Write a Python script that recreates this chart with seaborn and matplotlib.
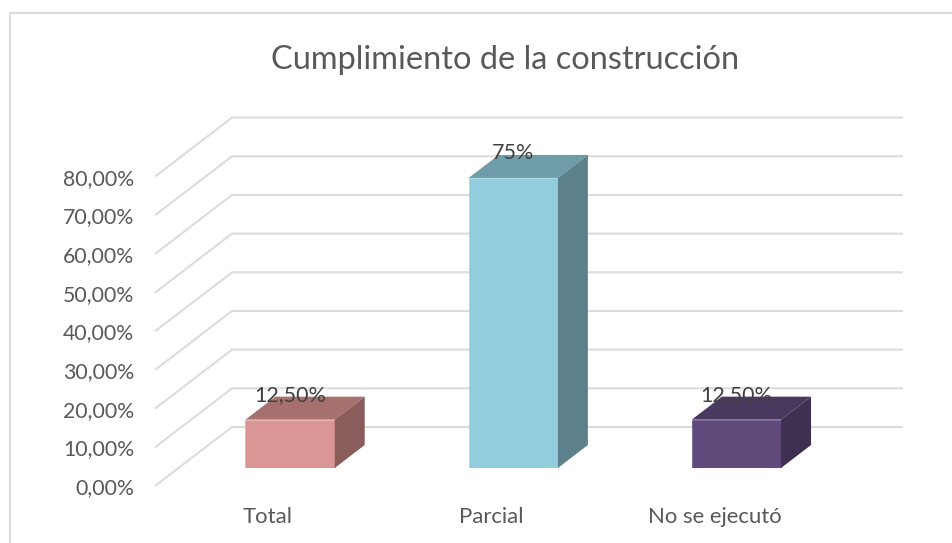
import matplotlib
matplotlib.use('Agg')
import matplotlib.pyplot as plt
import seaborn as sns
from matplotlib.lines import Line2D
from matplotlib.patches import Polygon
from matplotlib.transforms import ScaledTranslation

categories = ['Total', 'Parcial', 'No se ejecutó']
values = [12.5, 75, 12.5]
value_labels = ['12,50%', '75%', '12,50%']
tick_values = [0, 10, 20, 30, 40, 50, 60, 70, 80]
tick_labels = ['0,00%', '10,00%', '20,00%', '30,00%', '40,00%', '50,00%', '60,00%', '70,00%', '80,00%']
front_colors = ['#D99694', '#92CDDD', '#604A7B']
top_colors = ['#A6706E', '#6F9CA9', '#4A395E']
side_colors = ['#8A5D5C', '#5C818C', '#3E3050']
edge_colors = ['#E3B0AF', '#A5D6E3', '#74608E']

W, H = 952, 543
GRID = '#DCDCDC'
TEXT = '#595959'

sns.set_theme(style='white')
plt.rcParams['font.family'] = ['Lato', 'DejaVu Sans']

fig = plt.figure(figsize=(W / 100, H / 100), dpi=100)
# front plane of the bars, in pixels: x 178.5-848, y 468 (0%) to 158.6 (80%)
ax = fig.add_axes([178.5 / W, 1 - 468 / H, 669.5 / W, 309.4 / H])
ax.patch.set_alpha(0)

sns.barplot(x=categories, y=values, hue=categories, palette=front_colors,
            width=0.4, legend=False, saturation=1, ax=ax, zorder=3)
ax.set_xlim(-0.5, 2.5)
ax.set_ylim(0, 80)

px_x = 3 / 669.5      # data units per pixel
px_y = 80 / 309.4
dx, dy = 30 * px_x, 23 * px_y

# back wall and floor lines
for v in tick_values:
    xs = [-0.5 + (155 - 178.5) * px_x, -0.5 + (232 - 178.5) * px_x, -0.5 + (903 - 178.5) * px_x]
    ys = [v - 18 * px_y, v + 41 * px_y, v + 41 * px_y]
    ax.plot(xs, ys, color=GRID, lw=1.5, clip_on=False, zorder=1, solid_capstyle='butt')

# fake depth, top and side of each bar
for i, cont in enumerate(ax.containers):
    bar = cont[0]
    bar.set_edgecolor(edge_colors[i])
    bar.set_linewidth(0.6)
    x0, w, h = bar.get_x(), bar.get_width(), bar.get_height()
    top = Polygon([(x0, h), (x0 + w, h), (x0 + w + dx, h + dy), (x0 + dx, h + dy)],
                  facecolor=top_colors[i], edgecolor='none', clip_on=False, zorder=3)
    side = Polygon([(x0 + w, 0), (x0 + w + dx, dy), (x0 + w + dx, h + dy), (x0 + w, h)],
                   facecolor=side_colors[i], edgecolor='none', clip_on=False, zorder=3)
    ax.add_patch(top)
    ax.add_patch(side)
    ax.annotate(value_labels[i], (x0 + w / 2, h), xytext=(0, 25 * 0.72), textcoords='offset points',
                ha='center', va='center', fontsize=15.5, color='#404040', zorder=5, annotation_clip=False)

ax.set_yticks(tick_values, tick_labels)
ax.tick_params(axis='y', length=0, labelsize=15.3, labelcolor=TEXT, pad=0)
ax.tick_params(axis='x', length=0, labelsize=15.9, labelcolor=TEXT, pad=28)
sns.despine(ax=ax, left=True, bottom=True)
ax.grid(False)

down = ScaledTranslation(-44.5 / 100, -18 / 100, fig.dpi_scale_trans)
for lab in ax.get_yticklabels():
    lab.set_transform(lab.get_transform() + down)
left = ScaledTranslation(-22 / 100, 0, fig.dpi_scale_trans)
for lab in ax.get_xticklabels():
    lab.set_transform(lab.get_transform() + left)

fig.text(505 / W, 1 - 60 / H, 'Cumplimiento de la construcción', ha='center', va='center',
         fontsize=23.4, color=TEXT)

# chart frame, cut by the image at right and bottom
fig.add_artist(Line2D([10 / W, 10 / W, 1], [0, 1 - 12.5 / H, 1 - 12.5 / H], color=GRID, lw=1.5))

fig.savefig('out.png', dpi=100)
